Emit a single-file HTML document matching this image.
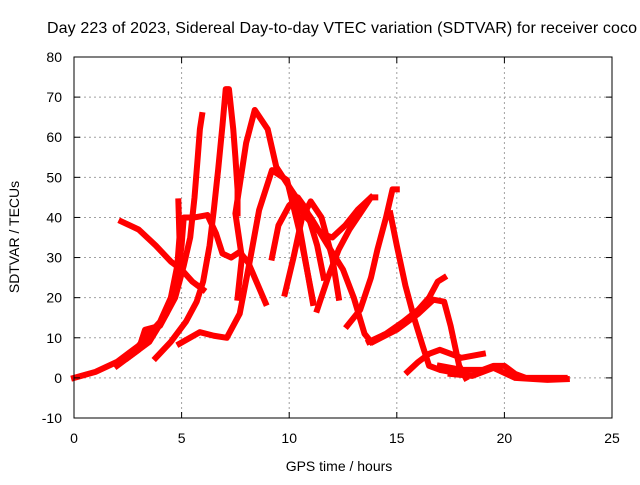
<!DOCTYPE html>
<html><head><meta charset="utf-8"><style>
body{margin:0;background:#fff;width:640px;height:480px;overflow:hidden}
text{font-family:"Liberation Sans",sans-serif;font-size:13px;fill:#000}
</style></head><body>
<svg width="640" height="480">
<g id="grid"></g>
<g id="series"></g>
<rect x="74" y="57" width="538" height="361" fill="none" stroke="#000" stroke-width="1"/>
<g id="ticks"></g>
<text x="47" y="33" style="font-size:16px" textLength="590">Day 223 of 2023, Sidereal Day-to-day VTEC variation (SDTVAR) for receiver coco</text>
<text x="339" y="471" text-anchor="middle" style="font-size:14px">GPS time / hours</text>
<text transform="translate(19,237) rotate(-90)" text-anchor="middle" style="font-size:14px">SDTVAR / TECUs</text>
</svg>
<script>
const xTicks=[0,5,10,15,20,25];
const yTicks=[-10,0,10,20,30,40,50,60,70,80];
const trackA=[[0,0],[1,1.5],[2,4],[3,8],[4,14],[4.5,20],[4.8,28],[4.9,35],[4.85,44]];
const trackB=[[2,3],[3,7],[3.3,12],[4,13],[4.7,20],[5.1,28],[5.4,35],[5.6,45],[5.75,55],[5.85,62],[5.95,65.5]];
const trackC=[[2.5,5],[3.5,9],[4.3,16],[4.8,25],[5,33],[5.1,40],[5.6,40],[6.2,40.6],[6.6,36],[6.9,31],[7.3,30],[7.7,31.4],[8.1,28.7],[8.9,18.7]];
const trackD=[[2.2,39],[3,37],[3.8,33],[4.5,29],[5,27],[5.5,24],[6,22]];
const trackE=[[3.8,5],[4.5,9],[5.2,14],[5.7,19],[6,24],[6.3,33],[6.5,42],[6.7,52],[6.9,63],[7.05,72],[7.2,72],[7.4,62],[7.5,55],[7.6,47],[7.6,41]];
const trackF=[[4.9,8.5],[5.85,11.4],[6.5,10.5],[7.1,10],[7.7,16],[8.2,30],[8.6,41.8],[9.2,51.8],[9.9,49.3],[10.5,36],[11.1,19.4]];
const trackG=[[7.6,20],[7.8,30],[7.5,41],[8,58.6],[8.4,66.8],[9,62],[9.4,52.6],[10.2,46],[10.6,34],[11.1,18.7]];
const trackH=[[9.8,21],[10.2,30],[10.6,40],[11,44],[11.5,40],[12,30],[12.3,20]];
const trackI=[[9.2,30],[9.5,38],[10,43],[10.4,45],[10.8,42],[11.3,33],[11.6,25]];
const trackJ=[[11.3,17],[11.8,25],[12.3,32],[12.8,37],[13.3,41],[13.8,45],[14,45]];
const trackK=[[12.7,13],[13.3,17],[13.8,25],[14.1,32],[14.5,40],[14.8,47],[15,47]];
const trackL=[[10.2,44],[10.8,40],[11.5,36],[12,35],[12.6,38],[13.2,42],[13.8,45]];
const trackM=[[10.2,46],[11,40],[11.8,33],[12.5,27],[13,20],[13.5,11],[13.8,9]];
const trackN=[[14.7,41],[15,33],[15.4,23],[15.8,15],[16.2,8],[16.5,3],[17,2],[18,1]];
const trackO=[[13.7,9],[14.5,11],[15.3,14],[16,17],[16.5,20],[16.9,24],[17.2,25]];
const trackP=[[13.9,9],[15,12],[16,16],[16.7,19.5],[17.2,19],[17.5,13],[17.9,3],[18.2,0]];
const trackQ=[[15.5,1.5],[16,4],[16.5,6],[17,7],[17.5,6],[18,5],[19,6]];
const trackR=[[17,3],[18,2],[19,2],[19.5,3],[20,3],[20.5,1],[21,0],[22,0],[22.8,0]];
const trackS=[[17.5,1],[18.5,0.5],[19.5,2.5],[20.5,0],[22,-0.5],[22.9,-0.3]];
const tracks=[trackA,trackB,trackC,trackD,trackE,trackF,trackG,trackH,trackI,trackJ,trackK,trackL,trackM,trackN,trackO,trackP,trackQ,trackR,trackS];
const X=v=>74+(v-0)*538/25, Y=v=>418-(v+10)*361/90;
const NS="http://www.w3.org/2000/svg";
const grid=document.getElementById('grid'),ticks=document.getElementById('ticks'),ser=document.getElementById('series');
function mk(tag,p,attrs){const e=document.createElementNS(NS,tag);for(const k in attrs)e.setAttribute(k,attrs[k]);p.appendChild(e);return e;}
xTicks.forEach(t=>{
 if(t>0&&t<25){const g=mk('line',grid,{x1:X(t),x2:X(t),y1:57,y2:418,stroke:'#a0a0a0','stroke-dasharray':'2,3'});
 
 }
 mk('line',ticks,{x1:X(t),x2:X(t),y1:418,y2:412,stroke:'#000'});
 mk('line',ticks,{x1:X(t),x2:X(t),y1:57,y2:63,stroke:'#000'});
 const l=mk('text',ticks,{x:X(t),y:443,'text-anchor':'middle',style:'font-size:14px'});l.textContent=t;
 
 
});
yTicks.forEach(t=>{
 if(t>-10&&t<80){const g=mk('line',grid,{x1:74,x2:612,y1:Y(t),y2:Y(t),stroke:'#a0a0a0','stroke-dasharray':'2,3'});
 
 }
 mk('line',ticks,{x1:74,x2:80,y1:Y(t),y2:Y(t),stroke:'#000'});
 mk('line',ticks,{x1:606,x2:612,y1:Y(t),y2:Y(t),stroke:'#000'});
 const l=mk('text',ticks,{x:62,y:Y(t)+5,'text-anchor':'end',style:'font-size:14px'});l.textContent=t;
 
 
});
tracks.forEach(tr=>{
 const p=mk('polyline',ser,{points:tr.map(d=>X(d[0])+','+Y(d[1])).join(' '),fill:'none',stroke:'#ff0000','stroke-width':6,'stroke-linejoin':'round','stroke-linecap':'square'});
 
 
});
</script>
</body></html>
